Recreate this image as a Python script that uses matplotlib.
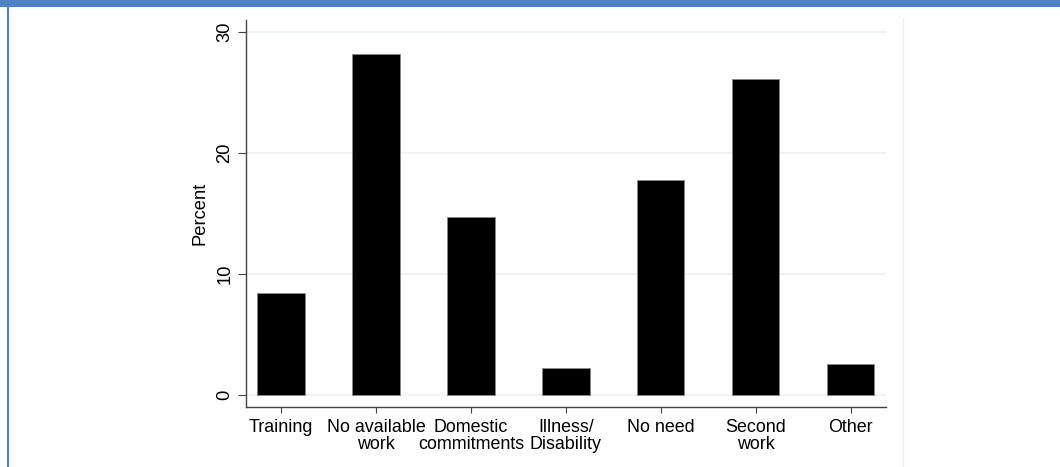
import matplotlib
matplotlib.use("Agg")
import matplotlib.pyplot as plt
from matplotlib.lines import Line2D
from matplotlib.patches import Rectangle

categories = ["Training", "No available\nwork", "Domestic\ncommitments", "Illness/\nDisability",
              "No need", "Second\nwork", "Other"]
percent = [8.43, 28.17, 14.70, 2.20, 17.80, 26.08, 2.56]
yticks = [0, 10, 20, 30]

plt.rcParams['font.family'] = ['Liberation Sans', 'DejaVu Sans']

W, H = 1060, 467
fig = plt.figure(figsize=(W / 100, H / 100), dpi=100)
fig.patch.set_facecolor("white")

# frame decorations (blue header band + left border + faint graph region border)
fig.add_artist(Rectangle((0, 1 - 7 / H), 1, 7 / H, transform=fig.transFigure,
                         facecolor="#4f81c4", edgecolor="none"))
fig.add_artist(Line2D([7.5 / W, 7.5 / W], [0, 1 - 7 / H], transform=fig.transFigure,
                      color="#4f81c4", lw=1.5))
fig.add_artist(Line2D([903 / W, 903 / W], [0, 1 - 18 / H], transform=fig.transFigure,
                      color="#eef0f2", lw=1))

ax = fig.add_axes([246 / W, 1 - 406.7 / H, (885.7 - 246) / W, (406.7 - 20) / H])
x = list(range(len(categories)))
ax.bar(x, percent, width=0.5, color="black", edgecolor="#888888", linewidth=0.6, zorder=3)

fs = 12.9
ax.set_xlim(-0.37, 6.37)
ax.set_ylim(-1.0, 31.0)
ax.set_yticks(yticks)
ax.set_yticklabels([str(v) for v in yticks], rotation=90, va="center", fontsize=13.2)
ax.set_xticks(x)
ax.set_xticklabels(categories, fontsize=fs, linespacing=1.0)
ax.set_ylabel("Percent", fontsize=13.2, labelpad=6)

for v in yticks:
    ax.axhline(v, color="#eaf2f3", lw=1.2, zorder=1)

for s in ["top", "right"]:
    ax.spines[s].set_visible(False)
for s in ["left", "bottom"]:
    ax.spines[s].set_color("#444444")
    ax.spines[s].set_linewidth(1.0)
ax.tick_params(axis="y", length=6, width=0.8, color="#444444", pad=3)
ax.tick_params(axis="x", length=4.5, width=0.8, color="#444444", pad=4)

fig.savefig("out.png", dpi=100)
